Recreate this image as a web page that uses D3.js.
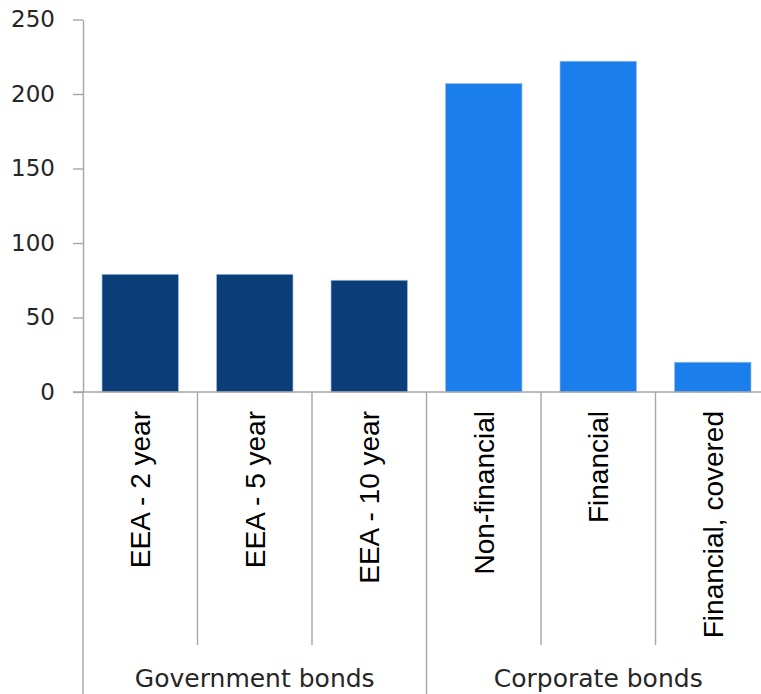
<!DOCTYPE html>
<html>
<head>
<meta charset="utf-8">
<script src="https://cdn.jsdelivr.net/npm/d3@7"></script>
<style>
  html, body { margin: 0; padding: 0; background: #ffffff; }
  svg { display: block; }
</style>
</head>
<body>
<svg id="chart" width="761" height="694"></svg>
<script>
// ---- data ----
const categories = ["EEA - 2 year", "EEA - 5 year", "EEA - 10 year", "Non-financial", "Financial", "Financial, covered"];
const groupOf = ["Government bonds", "Government bonds", "Government bonds", "Corporate bonds", "Corporate bonds", "Corporate bonds"];
const values = [79, 79, 75, 207, 222, 20];
const groupNames = ["Government bonds", "Corporate bonds"];
const groupColors = ["#0b3d78", "#1a7eec"];
const yTicks = [0, 50, 100, 150, 200, 250];

// ---- layout ----
const svg = d3.select("#chart");
const axisColor = "#a6a6a6";
const x0 = 83, x1 = 770;
const yBase = 392, yTop = 19.5;
const catTickBottom = 645, groupBottom = 694;

const y = d3.scaleLinear().domain([0, 250]).range([yBase, yTop]);
const x = d3.scaleBand().domain(categories).range([x0, x1]).paddingInner(0).paddingOuter(0);
const color = d3.scaleOrdinal().domain(groupNames).range(groupColors);
const barFrac = 0.668;

// bars
svg.append("g").selectAll("rect")
  .data(categories)
  .join("rect")
  .attr("x", (d) => x(d) + x.bandwidth() * (1 - barFrac) / 2)
  .attr("width", x.bandwidth() * barFrac)
  .attr("y", (d, i) => y(values[i]))
  .attr("height", (d, i) => y(0) - y(values[i]))
  .attr("fill", (d, i) => color(groupOf[i]))
  .attr("stroke", "#9dbfe6")
  .attr("stroke-width", 0.7);

// y axis
const yAxis = svg.append("g")
  .attr("transform", `translate(${x0},0)`)
  .call(d3.axisLeft(y).tickValues(yTicks).tickSize(10).tickSizeOuter(0).tickPadding(18));
yAxis.select(".domain").attr("stroke", axisColor).attr("stroke-width", 1.4);
yAxis.selectAll(".tick line").attr("stroke", axisColor).attr("stroke-width", 1.4);
yAxis.selectAll(".tick text")
  .attr("font-family", "'DejaVu Sans', Verdana, sans-serif")
  .attr("font-size", 23)
  .attr("fill", "#262626");

// x axis baseline
svg.append("line")
  .attr("x1", x0 - 10).attr("x2", x1)
  .attr("y1", yBase).attr("y2", yBase)
  .attr("stroke", axisColor).attr("stroke-width", 1.4);

// category separators
const boundaries = d3.range(categories.length + 1);
svg.append("g").selectAll("line")
  .data(boundaries)
  .join("line")
  .attr("x1", (i) => x0 + i * x.step())
  .attr("x2", (i) => x0 + i * x.step())
  .attr("y1", yBase)
  .attr("y2", (i) => (i === 0 || i === categories.length || groupOf[i] !== groupOf[i - 1]) ? groupBottom : catTickBottom)
  .attr("stroke", axisColor)
  .attr("stroke-width", 1.4);

// rotated category labels
svg.append("g").selectAll("text")
  .data(categories)
  .join("text")
  .attr("transform", (d) => `translate(${x(d) + x.bandwidth() / 2},411) rotate(-90)`)
  .attr("dy", "0.35em")
  .attr("text-anchor", "end")
  .attr("font-family", "'Liberation Sans', Arial, sans-serif")
  .attr("font-size", 28)
  .attr("fill", "#000000")
  .text((d) => d);

// group labels
svg.append("g").selectAll("text")
  .data(groupNames)
  .join("text")
  .attr("x", (g) => {
    const idx = categories.filter((c, i) => groupOf[i] === g).map((c) => x(c));
    return (d3.min(idx) + d3.max(idx) + x.bandwidth()) / 2;
  })
  .attr("y", 687)
  .attr("text-anchor", "middle")
  .attr("font-family", "'DejaVu Sans', Verdana, sans-serif")
  .attr("font-size", 25)
  .attr("fill", "#262626")
  .text((g) => g);
</script>
</body>
</html>
